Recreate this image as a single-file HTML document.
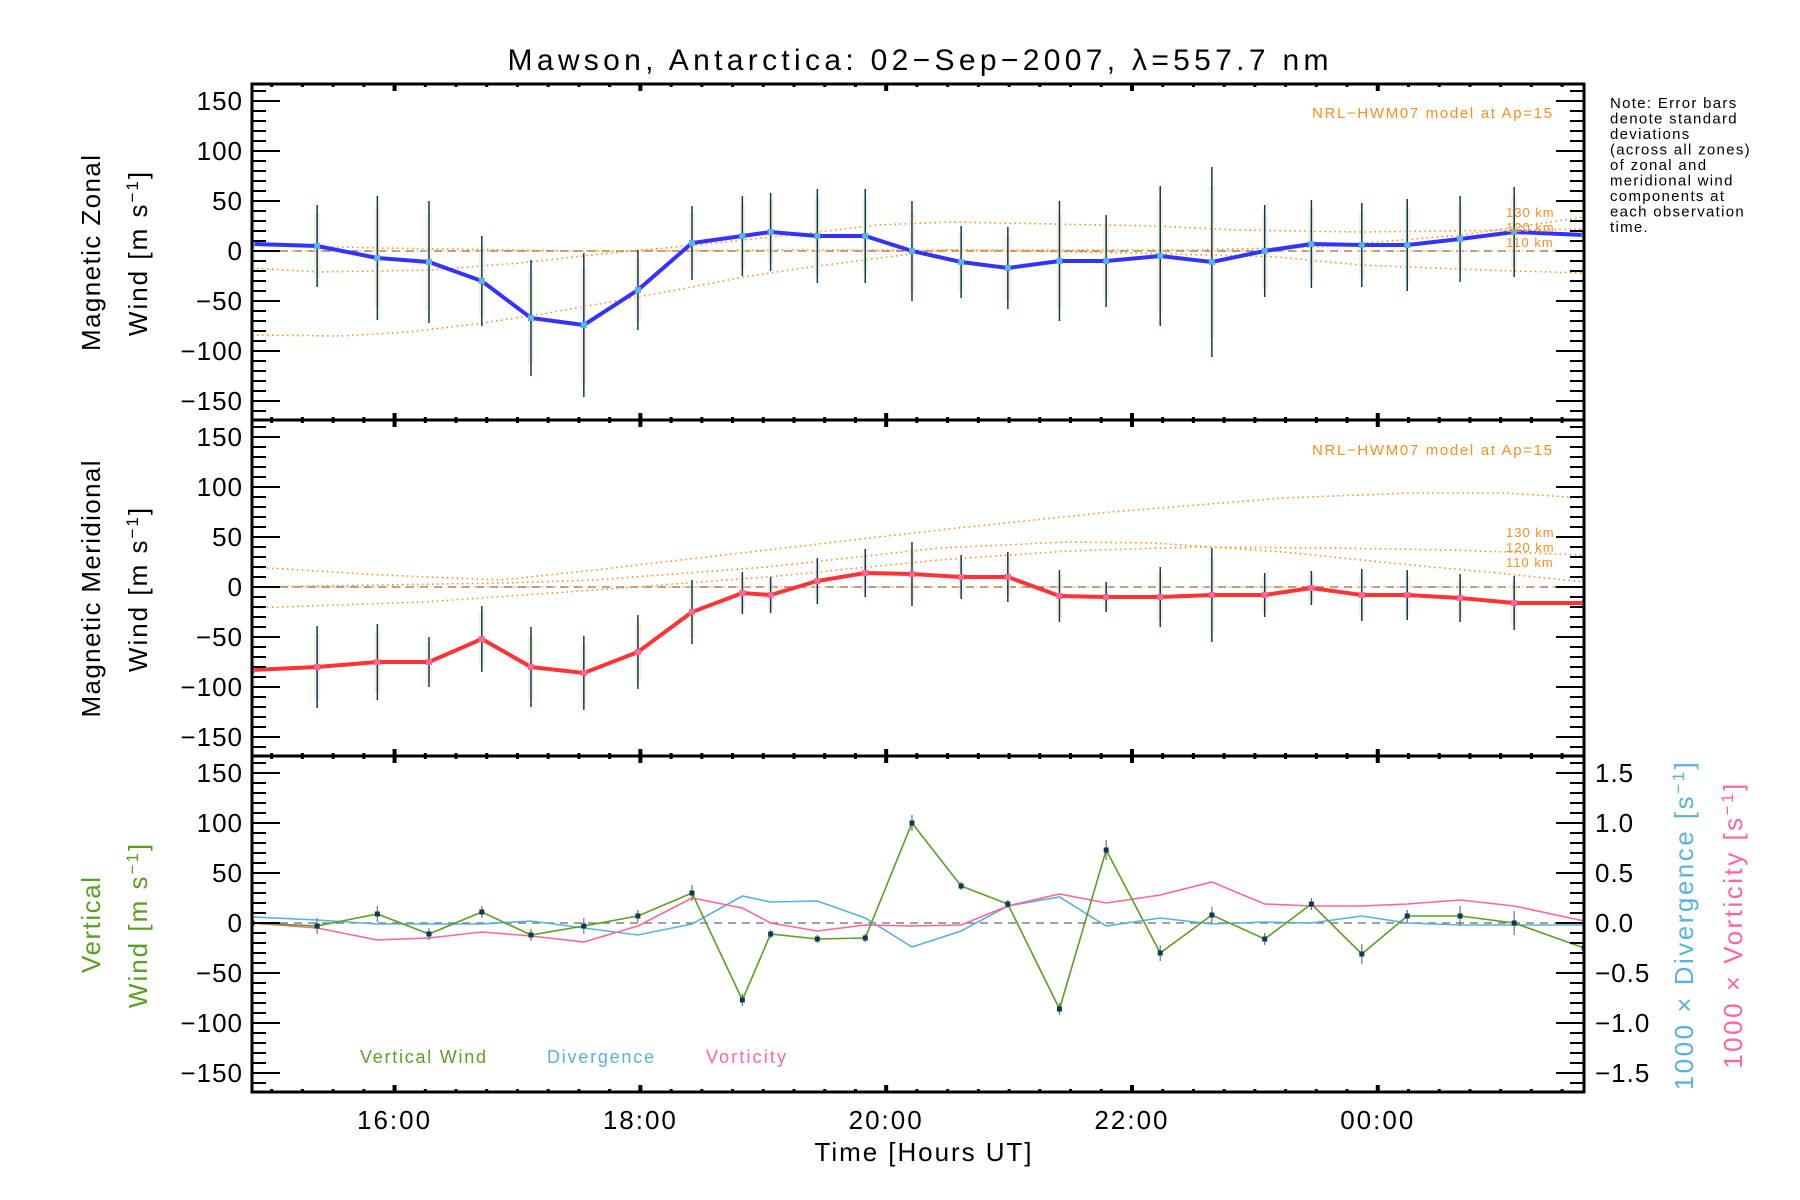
<!DOCTYPE html>
<html><head><meta charset="utf-8"><style>
html,body{margin:0;padding:0;background:#fff}
svg{display:block}
text{font-family:"Liberation Sans","DejaVu Sans",sans-serif}
</style></head><body>
<svg id="chart" width="1800" height="1200" viewBox="0 0 1800 1200" xmlns="http://www.w3.org/2000/svg">
<defs><clipPath id="pc"><rect x="252" y="84" width="1332" height="1008"/></clipPath></defs>
<text x="918" y="70" font-size="30" text-anchor="middle" textLength="821" lengthAdjust="spacing">Mawson, Antarctica: 02−Sep−2007, λ=557.7 nm</text>
<g id="marks" clip-path="url(#pc)"></g>
<g id="axes"></g>
<g font-size="15" letter-spacing="1.3">
<text x="1610" y="108">Note: Error bars</text>
<text x="1610" y="123.5">denote standard</text>
<text x="1610" y="139">deviations</text>
<text x="1610" y="154.5">(across all zones)</text>
<text x="1610" y="170">of zonal and</text>
<text x="1610" y="185.5">meridional wind</text>
<text x="1610" y="201">components at</text>
<text x="1610" y="216.5">each observation</text>
<text x="1610" y="232">time.</text>
</g>
<text x="1312" y="118" font-size="15" fill="#ff8c1a" textLength="240" lengthAdjust="spacing">NRL−HWM07 model at Ap=15</text>
<text x="1312" y="455" font-size="15" fill="#ff8c1a" textLength="240" lengthAdjust="spacing">NRL−HWM07 model at Ap=15</text>
<g font-size="13" fill="#ff8c1a" letter-spacing="1">
<text x="1506" y="217">130 km</text><text x="1506" y="232">120 km</text><text x="1506" y="247">110 km</text></g>
<g font-size="13" fill="#ff8c1a" letter-spacing="1">
<text x="1506" y="537">130 km</text><text x="1506" y="552">120 km</text><text x="1506" y="567">110 km</text></g>
<text font-size="26" text-anchor="middle" textLength="196" lengthAdjust="spacing" transform="translate(100,253) rotate(-90)">Magnetic Zonal</text>
<text font-size="26" text-anchor="middle" letter-spacing="2" transform="translate(147,253) rotate(-90)">Wind [m s<tspan baseline-shift="super" font-size="17">−1</tspan>]</text>
<text font-size="26" text-anchor="middle" textLength="257" lengthAdjust="spacing" transform="translate(100,589) rotate(-90)">Magnetic Meridional</text>
<text font-size="26" text-anchor="middle" letter-spacing="2" transform="translate(147,589) rotate(-90)">Wind [m s<tspan baseline-shift="super" font-size="17">−1</tspan>]</text>
<text font-size="26" fill="#5aa020" text-anchor="middle" textLength="96" lengthAdjust="spacing" transform="translate(100,925) rotate(-90)">Vertical</text>
<text font-size="26" fill="#5aa020" text-anchor="middle" letter-spacing="2" transform="translate(147,925) rotate(-90)">Wind [m s<tspan baseline-shift="super" font-size="17">−1</tspan>]</text>
<text font-size="26" fill="#5ab0e0" text-anchor="middle" letter-spacing="2.5" transform="translate(1693,925) rotate(-90)">1000 × Divergence [s<tspan baseline-shift="super" font-size="17">−1</tspan>]</text>
<text font-size="26" fill="#ff6699" text-anchor="middle" letter-spacing="2.5" transform="translate(1742,925) rotate(-90)">1000 × Vorticity [s<tspan baseline-shift="super" font-size="17">−1</tspan>]</text>
<text x="923" y="1161" font-size="26" text-anchor="middle" textLength="217" lengthAdjust="spacing">Time [Hours UT]</text>
<text x="360" y="1063" font-size="18" fill="#5aa020" textLength="126" lengthAdjust="spacing">Vertical Wind</text>
<text x="547" y="1063" font-size="18" fill="#5ab0e0" textLength="107" lengthAdjust="spacing">Divergence</text>
<text x="706" y="1063" font-size="18" fill="#ff6699" textLength="80" lengthAdjust="spacing">Vorticity</text>
</svg>
<script>
const times=[14.84,15.37,15.86,16.28,16.71,17.11,17.54,17.98,18.42,18.83,19.06,19.44,19.83,20.21,20.61,20.99,21.41,21.79,22.23,22.65,23.08,23.46,23.87,24.24,24.67,25.11,25.68];
const zonal=[7,5,-7,-11,-30,-67,-74,-39,8,15,19,15,15,0,-11,-17,-10,-10,-5,-11,0,7,6,6,12,19,16];
const zonalErr=[40,41,62,61,45,58,72,40,37,40,39,47,47,50,36,41,60,46,70,95,46,44,42,46,43,45,0];
const merid=[-83,-80,-75,-75,-52,-80,-86,-65,-25,-6,-8,6,14,13,10,10,-9,-10,-10,-8,-8,-1,-8,-8,-11,-16,-16];
const meridErr=[40,41,38,25,33,40,37,37,32,21,18,23,24,32,22,25,26,15,30,47,22,17,26,25,24,27,0];
const vwind=[0,-3,9,-11,11,-12,-3,7,30,-77,-11,-16,-15,100,37,19,-86,73,-30,8,-16,19,-31,7,7,0,-25];
const vwindErr=[6,8,8,6,6,6,8,6,8,6,4,4,4,8,4,4,6,10,8,8,6,6,10,6,10,12,0];
const divergence=[0.06,0.03,-0.01,-0.01,-0.01,0.02,-0.05,-0.12,-0.01,0.27,0.21,0.22,0.05,-0.24,-0.08,0.17,0.26,-0.03,0.05,-0.01,0.01,0,0.07,0,-0.02,-0.02,-0.02];
const vorticity=[0,-0.05,-0.17,-0.15,-0.09,-0.13,-0.19,-0.03,0.25,0.15,0,-0.08,-0.02,-0.03,-0.02,0.17,0.29,0.2,0.28,0.41,0.19,0.17,0.17,0.19,0.23,0.17,0.02];
const zModelT1=[14.84,15.57,16.11,16.66,17.2,17.75,18.29,18.84,19.38,20.14,20.51,22.0,23.19,23.86,24.86,25.68];
const zModel1=[-84,-85,-81,-73,-63,-51,-39,-26,-16,-4,1,-2,-6,-14,-19,-22];
const zModelT2=[14.84,15.38,16.29,17.02,17.75,18.29,18.84,19.38,19.93,20.51,22.19,22.86,23.86,25.19,25.68];
const zModel2=[-17,-21,-19,-12,-2,4,11,18,26,29,25,21,19,21,22];
const zModelT3=[14.84,15.9,17.5,19.5,21.5,22.5,23.5,24.19,24.69,25.68];
const zModel3=[6,3,0,1,1,1,4,11,16,34];
const mModelT1=[14.84,15.89,16.87,17.63,19.03,20.43,21.83,23.23,24.27,25.04,25.68];
const mModel1=[20,12,7,17,37,57,75,89,94,94,89];
const mModelT2=[14.84,16.9,17.63,19.03,20.43,21.48,22.18,23.23,24.27,24.97,25.68];
const mModel2=[0,4,7,20,39,45,44,35,22,14,5];
const mModelT3=[14.84,16.24,17.63,19.03,20.43,21.48,22.53,23.57,24.62,25.68];
const mModel3=[-21,-15,-3,10,27,36,40,39,37,32];
const yTicks=[-150,-100,-50,0,50,100,150];
const rTicks=[-1.5,-1.0,-0.5,0.0,0.5,1.0,1.5];
const xTickHours=[16,18,20,22,24];
const xTickLabels=["16:00","18:00","20:00","22:00","00:00"];

const NS="http://www.w3.org/2000/svg";
const X0=252,X1=1584,T0=14.84,PXH=122.9;
const tops=[84,420,756];
function xs(t){return X0+(t-T0)*PXH;}
function ys(p,v){return tops[p]+167-v;}
function yr(v){return tops[2]+167-v*100;}
const marks=document.getElementById('marks'),axes=document.getElementById('axes');
function mk(tag,attrs,parent){const e=document.createElementNS(NS,tag);for(const k in attrs)e.setAttribute(k,attrs[k]);parent.appendChild(e);return e;}
function poly(xsArr,ysArr,stroke,w,dash,name){
  const pts=xsArr.map((x,i)=>x.toFixed(1)+','+ysArr[i].toFixed(1)).join(' ');
  const e=mk('polyline',{points:pts,fill:'none',stroke:stroke,'stroke-width':w},marks);
  if(dash)e.setAttribute('stroke-dasharray',dash);
  
  
  return e;
}
for(let p=0;p<3;p++){
  const z=mk('line',{x1:X0,x2:X1,y1:ys(p,0),y2:ys(p,0),stroke:'#808080','stroke-width':1.5,'stroke-dasharray':'8,6'},marks);
  
  
}
for(let p=0;p<2;p++){
  const z=mk('line',{x1:X0,x2:X1,y1:ys(p,0),y2:ys(p,0),stroke:'#ff8c1a','stroke-width':1,'stroke-dasharray':'6,3,1,3','opacity':0.7},marks);
  
  
}
const md='1.5,3.5';
poly(zModelT1.map(xs),zModel1.map(v=>ys(0,v)),'#ff8c1a',1.6,md,'zonal-model-110km');
poly(zModelT2.map(xs),zModel2.map(v=>ys(0,v)),'#ff8c1a',1.6,md,'zonal-model-120km');
poly(zModelT3.map(xs),zModel3.map(v=>ys(0,v)),'#ff8c1a',1.6,md,'zonal-model-130km');
poly(mModelT1.map(xs),mModel1.map(v=>ys(1,v)),'#ff8c1a',1.6,md,'meridional-model-130km');
poly(mModelT2.map(xs),mModel2.map(v=>ys(1,v)),'#ff8c1a',1.6,md,'meridional-model-120km');
poly(mModelT3.map(xs),mModel3.map(v=>ys(1,v)),'#ff8c1a',1.6,md,'meridional-model-110km');
function errbars(p,vals,errs,name){
  for(let i=0;i<vals.length;i++){if(!errs[i])continue;
    const x=xs(times[i]);
    const band=mk('rect',{x:x-3,y:ys(p,vals[i]+errs[i]*0.8),width:6,height:errs[i]*1.6,fill:'#f3e6c8',opacity:0.6},marks);
    
    
    const e=mk('line',{x1:x,x2:x,y1:ys(p,vals[i]+errs[i]),y2:ys(p,vals[i]-errs[i]),stroke:'#0a3a5a','stroke-width':1.5},marks);
    
    
  }
}
errbars(0,zonal,zonalErr,'zonal-error-bar');
errbars(1,merid,meridErr,'meridional-error-bar');
poly(times.map(xs),zonal.map(v=>ys(0,v)),'#3333ff',4,null,'zonal-wind-line');
poly(times.map(xs),merid.map(v=>ys(1,v)),'#ff3333',4,null,'meridional-wind-line');
for(let i=0;i<times.length;i++){
  const a=mk('rect',{x:xs(times[i])-3,y:ys(0,zonal[i])-3,width:6,height:6,fill:'#5ab4e0'},marks);
  
  
  const b=mk('rect',{x:xs(times[i])-3,y:ys(1,merid[i])-3,width:6,height:6,fill:'#ff6699'},marks);
  
  
}
poly(times.map(xs),divergence.map(yr),'#5ab0e0',1.6,null,'divergence-line');
poly(times.map(xs),vorticity.map(yr),'#ff6699',1.6,null,'vorticity-line');
for(let i=0;i<times.length;i++){if(!vwindErr[i])continue;
  const e=mk('line',{x1:xs(times[i]),x2:xs(times[i]),y1:ys(2,vwind[i]+vwindErr[i]),y2:ys(2,vwind[i]-vwindErr[i]),stroke:'#707070','stroke-width':1.2},marks);
  
  
}
poly(times.map(xs),vwind.map(v=>ys(2,v)),'#5aa020',1.6,null,'vertical-wind-line');
for(let i=0;i<times.length;i++){
  const a=mk('rect',{x:xs(times[i])-2.5,y:ys(2,vwind[i])-2.5,width:5,height:5,fill:'#0a3a5a'},marks);
  
  
}
function ln(x1,y1,x2,y2,w,name){const e=mk('line',{x1:x1,y1:y1,x2:x2,y2:y2,stroke:'#000','stroke-width':w},axes);
  
  return e;}
for(let p=0;p<3;p++){
  const t=tops[p],b=t+336;
  const fr=mk('rect',{x:X0,y:t,width:X1-X0,height:336,fill:'none',stroke:'#000','stroke-width':3},axes);
  
  
  for(let v=-160;v<=160;v+=10){
    const y=ys(p,v);if(y<t+1||y>b-1)continue;
    const maj=(v%50===0);
    ln(X0,y,X0+(maj?28:14),y,2,'y-tick');
    if(p<2)ln(X1,y,X1-(maj?28:14),y,2,'y-tick-right');
  }
  yTicks.forEach(v=>{
    const tx=mk('text',{x:243,y:ys(p,v)+9,'font-size':26,'text-anchor':'end','letter-spacing':1},axes);
    tx.textContent=(v<0?'−':'')+Math.abs(v);
    
    
  });
  for(let h=15;h<=25.5;h+=0.25){
    const x=xs(h);if(x<X0+2||x>X1-2)continue;
    const maj=(Math.abs(h/2-Math.round(h/2))<1e-6);
    ln(x,t,x,t+(maj?7:3),maj?4:3,'x-tick');
    ln(x,b,x,b-(maj?7:3),maj?4:3,'x-tick');
  }
}
for(let v=-1.6;v<=1.61;v+=0.1){
  const y=yr(v);if(y<tops[2]+1||y>tops[2]+335)continue;
  const maj=Math.abs(v*2-Math.round(v*2))<1e-6;
  ln(X1,y,X1-(maj?28:14),y,2,'right-y-tick');
}
rTicks.forEach(v=>{
  const tx=mk('text',{x:1595,y:yr(v)+9,'font-size':26,'letter-spacing':1},axes);
  tx.textContent=(v<0?'−':'')+Math.abs(v).toFixed(1);
  
  
});
xTickHours.forEach((h,i)=>{
  const tx=mk('text',{x:xs(h),y:1129,'font-size':26,'text-anchor':'middle','letter-spacing':2},axes);
  tx.textContent=xTickLabels[i];
  
  
});
</script>
</body></html>
